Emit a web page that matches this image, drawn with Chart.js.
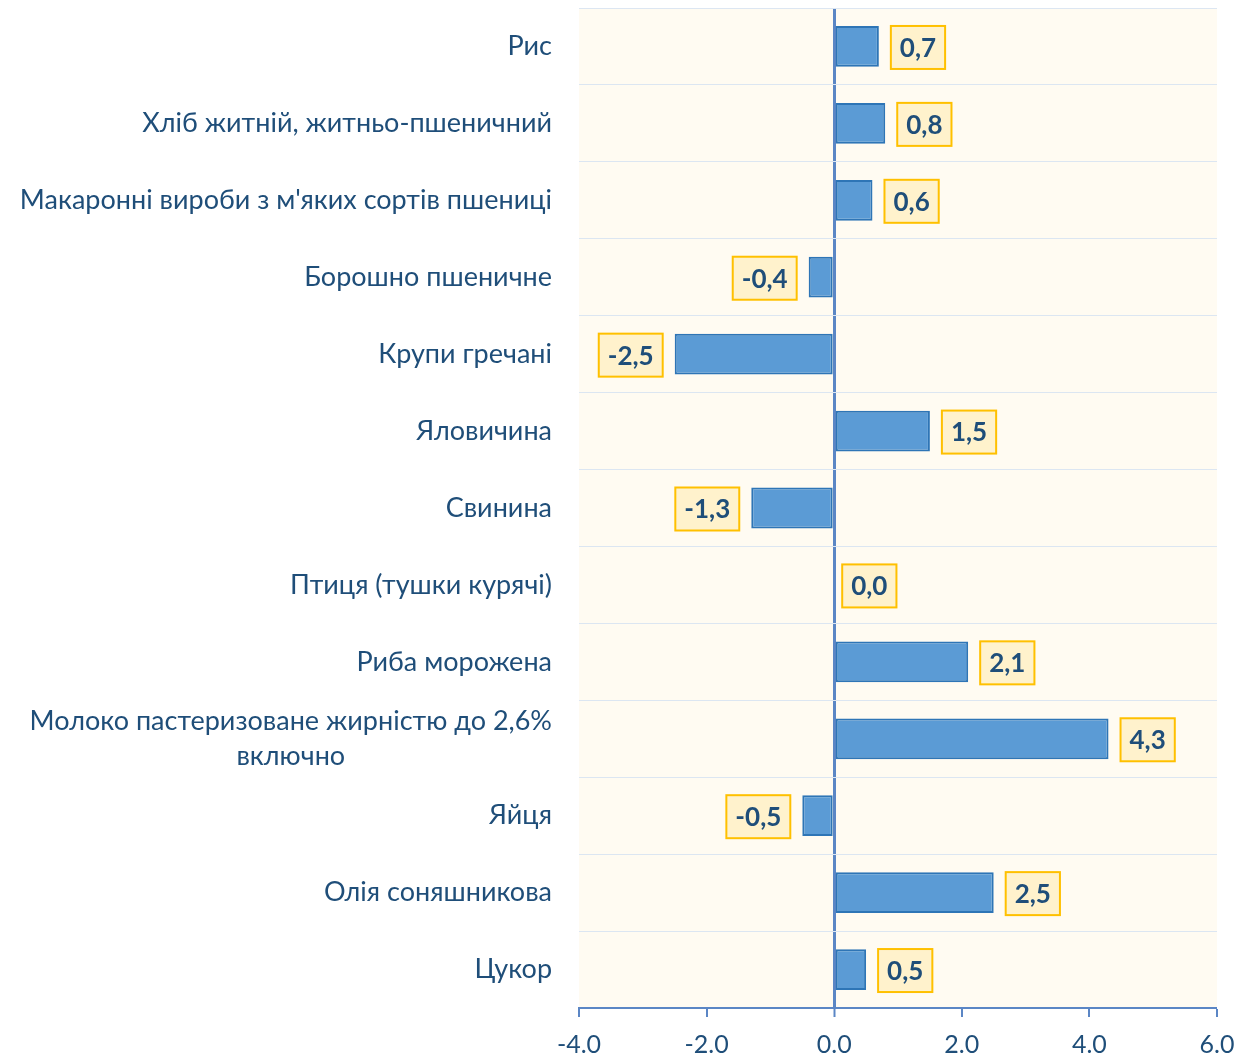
<!DOCTYPE html>
<html>
<head>
<meta charset="utf-8">
<script src="https://cdn.jsdelivr.net/npm/chart.js@4"></script>
<style>
  html, body { margin: 0; padding: 0; background: #fff; overflow: hidden; }
  #wrap { position: relative; width: 1239px; height: 1075px; }
</style>
</head>
<body>
<div id="wrap"><canvas id="chart"></canvas></div>
<script>
// Зміна цін на продукти, %
const categories = [
  'Рис',
  'Хліб житній, житньо-пшеничний',
  "Макаронні вироби з м'яких сортів пшениці",
  'Борошно пшеничне',
  'Крупи гречані',
  'Яловичина',
  'Свинина',
  'Птиця (тушки курячі)',
  'Риба морожена',
  ['Молоко пастеризоване жирністю до 2,6%', 'включно'],
  'Яйця',
  'Олія соняшникова',
  'Цукор'
];
const values = [0.7, 0.8, 0.6, -0.4, -2.5, 1.5, -1.3, 0.0, 2.1, 4.3, -0.5, 2.5, 0.5];
const xMin = -4, xMax = 6, xStep = 2;

const FONT = 'Lato, sans-serif';
const TEXT = '#1F4E79';
const AXIS = '#5B86C5';

// plot background
const plotBg = {
  id: 'plotBg',
  beforeDraw(chart) {
    const { ctx, chartArea: a } = chart;
    ctx.save();
    ctx.fillStyle = '#FFFBF2';
    ctx.fillRect(a.left, a.top, a.right - a.left, a.bottom - a.top);
    ctx.restore();
  }
};

// category names on the left, multi-line centred as a block
const catLabels = {
  id: 'catLabels',
  afterDraw(chart) {
    const { ctx } = chart;
    const y = chart.scales.y;
    ctx.save();
    ctx.font = '27px ' + FONT;
    ctx.fillStyle = TEXT;
    ctx.textBaseline = 'middle';
    const right = 552, lh = 35;
    categories.forEach((lab, i) => {
      const cy = y.getPixelForTick(i);
      const lines = Array.isArray(lab) ? lab : [lab];
      const w = Math.max(...lines.map(l => ctx.measureText(l).width));
      const cx = right - w / 2;
      ctx.textAlign = 'center';
      lines.forEach((l, k) => {
        ctx.fillText(l, cx, cy + (k - (lines.length - 1) / 2) * lh);
      });
    });
    ctx.restore();
  }
};

// value boxes next to bars
const valueBoxes = {
  id: 'valueBoxes',
  afterDatasetsDraw(chart) {
    const { ctx } = chart;
    const meta = chart.getDatasetMeta(0);
    ctx.save();
    ctx.font = 'bold 26px ' + FONT;
    ctx.textBaseline = 'middle';
    ctx.textAlign = 'center';
    meta.data.forEach((bar, i) => {
      const v = values[i];
      const txt = v.toFixed(1).replace('.', ',');
      const w = ctx.measureText(txt).width + 18;
      const h = 43;
      const gap = v === 0 ? 8 : 12;
      const x0 = v < 0 ? bar.x - gap - w : bar.x + gap;
      const cy = bar.y + 1;
      ctx.fillStyle = '#FFF2CC';
      ctx.strokeStyle = '#FFC000';
      ctx.lineWidth = 2;
      ctx.fillRect(x0, cy - h / 2, w, h);
      ctx.strokeRect(x0, cy - h / 2, w, h);
      ctx.fillStyle = TEXT;
      ctx.fillText(txt, x0 + w / 2, cy + 1);
    });
    ctx.restore();
  }
};

new Chart(document.getElementById('chart'), {
  type: 'bar',
  data: {
    labels: categories,
    datasets: [{
      data: values,
      backgroundColor: '#5B9BD5',
      borderColor: '#2E75B6',
      borderWidth: 2,
      borderSkipped: false,
      categoryPercentage: 1,
      barPercentage: 0.53
    }]
  },
  options: {
    indexAxis: 'y',
    responsive: true,
    maintainAspectRatio: false,
    animation: false,
    layout: { padding: { top: 8, right: 22, left: 0, bottom: 0 } },
    plugins: { legend: { display: false }, tooltip: { enabled: false } },
    scales: {
      x: {
        min: xMin, max: xMax,
        ticks: {
          stepSize: xStep,
          padding: 13,
          color: TEXT,
          font: { family: FONT, size: 25 },
          callback: v => Number(v).toFixed(1)
        },
        grid: {
          color: c => (c.tick && c.tick.value === 0) ? AXIS : 'transparent',
          lineWidth: c => (c.tick && c.tick.value === 0) ? 3 : 0,
          tickColor: AXIS,
          tickWidth: 2,
          tickLength: 9,
          drawOnChartArea: true
        },
        border: { display: true, color: AXIS, width: 2 },
        afterFit: s => { s.height = 67; s.paddingLeft = 0; s.paddingRight = 0; }
      },
      y: {
        ticks: { display: false },
        grid: { color: '#DCE6F2', lineWidth: 1, drawTicks: false, offset: true },
        border: { display: false },
        afterFit: s => { s.width = 579; }
      }
    }
  },
  plugins: [plotBg, catLabels, valueBoxes]
});
</script>
</body>
</html>
